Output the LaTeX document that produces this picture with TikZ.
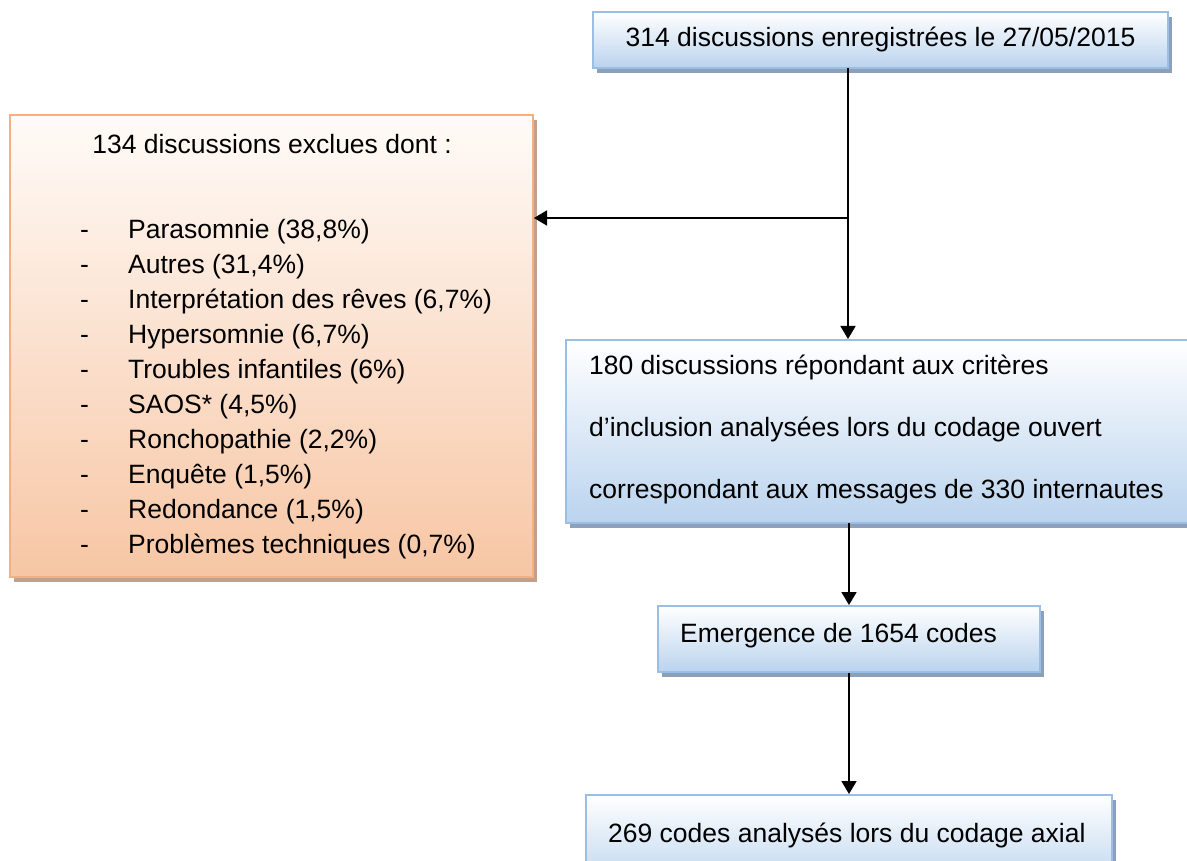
\documentclass[tikz,border=0pt]{standalone}
\usepackage{fontspec}
\setmainfont{Liberation Sans}
\usetikzlibrary{shadows,arrows.meta}
\definecolor{bluetop}{RGB}{255,255,255}
\definecolor{bluebot}{RGB}{186,211,238}
\definecolor{blueline}{RGB}{155,190,228}
\definecolor{blueshadow}{RGB}{140,160,186}
\definecolor{orangetop}{RGB}{255,251,248}
\definecolor{orangebot}{RGB}{247,198,164}
\definecolor{orangeline}{RGB}{246,176,128}
\definecolor{orangeshadow}{RGB}{196,160,138}
\tikzset{
  bluebox/.style={draw=blueline, line width=2pt, top color=bluetop, bottom color=bluebot,
    inner sep=0pt, drop shadow={shadow xshift=4pt, shadow yshift=-5pt, fill=blueshadow, opacity=1}},
  orangebox/.style={draw=orangeline, line width=2pt, top color=orangetop, bottom color=orangebot,
    inner sep=0pt, drop shadow={shadow xshift=4pt, shadow yshift=-5pt, fill=orangeshadow, opacity=1}},
  txt/.style={inner sep=0pt, font=\fontsize{26.5}{30}\selectfont},
  arr/.style={line width=1.8pt, -{Triangle[length=13pt,width=15pt]}}
}
\begin{document}
\begin{tikzpicture}[x=1pt, y=-1pt]
\useasboundingbox (0,0) rectangle (1187,861);
\clip (0,0) rectangle (1187,861);
% boxes
\node[bluebox, minimum width=575pt, minimum height=56pt] (b1) at (880.5,40) {};
\node[orangebox, minimum width=523pt, minimum height=462pt] (L) at (271.5,346) {};
\node[bluebox, minimum width=634pt, minimum height=183pt] (b2) at (883,431.5) {};
\node[bluebox, minimum width=382pt, minimum height=66pt] (b3) at (849,639) {};
\node[bluebox, minimum width=526pt, minimum height=95pt] (b4) at (849,842.5) {};
% texts
\node[txt, anchor=base] (t1) at (880.5,47) {314 discussions enregistrées le 27/05/2015};
\node[txt, anchor=base] (h) at (272,154) {134 discussions exclues dont :};
\foreach \t [count=\i from 0] in {Parasomnie (38{,}8\%), Autres (31{,}4\%), Interprétation des rêves (6{,}7\%), Hypersomnie (6{,}7\%), Troubles infantiles (6\%), SAOS* (4{,}5\%), Ronchopathie (2{,}2\%), Enquête (1{,}5\%), Redondance (1{,}5\%), Problèmes techniques (0{,}7\%)}{
  \node[txt, anchor=base west] (d\i) at (80,{238.5+35*\i}) {-};
  \node[txt, anchor=base west] (e\i) at (128,{238.5+35*\i}) {\t};
}
\node[txt, anchor=base west] (t2a) at (589,374) {180 discussions répondant aux critères};
\node[txt, anchor=base west] (t2b) at (589,436) {d’inclusion analysées lors du codage ouvert};
\node[txt, anchor=base west] (t2c) at (589,498) {correspondant aux messages de 330 internautes};
\node[txt, anchor=base west] (t3) at (680,642.5) {Emergence de 1654 codes};
\node[txt, anchor=base west] (t4) at (608,842.5) {269 codes analysés lors du codage axial};
% connectors
\coordinate (top) at (848,68);
\coordinate (j) at (848,218);
\coordinate (mid) at (849,523);
\draw[arr] (top) -- (top |- b2.north);
\draw[arr] (j) -- (L.east |- j);
\draw[arr] (mid) -- (mid |- b3.north);
\draw[arr] (b3.south) -- (b4.north);
\end{tikzpicture}
\end{document}
